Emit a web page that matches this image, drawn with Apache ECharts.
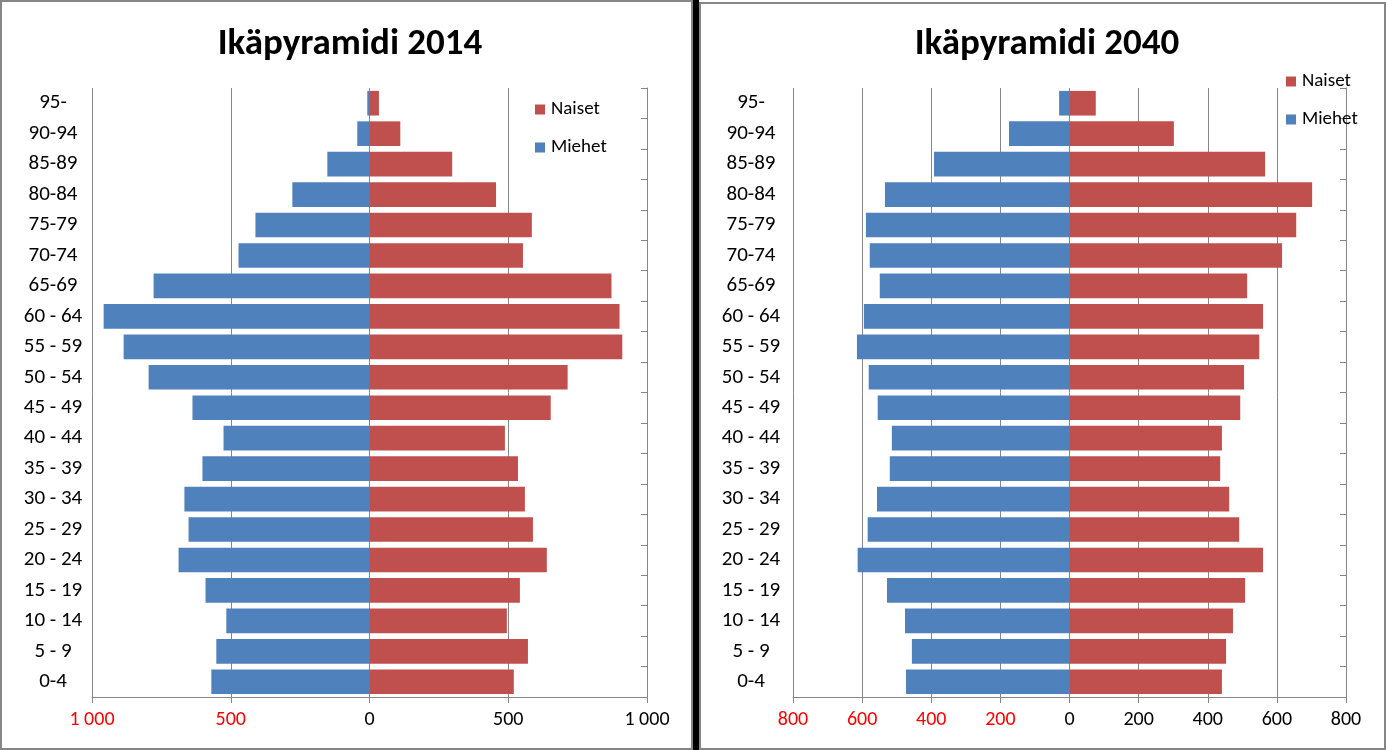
<!DOCTYPE html>
<html>
<head>
<meta charset="utf-8">
<script src="https://cdn.jsdelivr.net/npm/echarts@6/dist/echarts.min.js"></script>
<style>
html,body{margin:0;padding:0;background:#fff;}
#c{width:1386px;height:750px;}
</style>
</head>
<body>
<div id="c"></div>
<script>
// Age groups, bottom to top
var categories = ['0-4','5 - 9','10 - 14','15 - 19','20 - 24','25 - 29','30 - 34','35 - 39','40 - 44','45 - 49','50 - 54','55 - 59','60 - 64','65-69','70-74','75-79','80-84','85-89','90-94','95-'];
// 2014
var miehet2014 = [570, 552, 516, 591, 688, 652, 667, 602, 526, 638, 796, 886, 958, 778, 472, 411, 278, 152, 44, 8];
var naiset2014 = [520, 571, 495, 542, 639, 589, 560, 535, 488, 653, 714, 911, 901, 872, 553, 585, 456, 298, 111, 34];
// 2040
var miehet2040 = [473, 456, 476, 528, 613, 584, 557, 520, 514, 555, 581, 615, 595, 549, 578, 589, 534, 392, 175, 30];
var naiset2040 = [441, 453, 473, 508, 560, 491, 462, 436, 441, 494, 505, 549, 560, 514, 615, 656, 702, 566, 302, 76];
var titles = ['Ikäpyramidi 2014', 'Ikäpyramidi 2040'];
var seriesNames = ['Naiset', 'Miehet'];

var FONT = "Carlito, 'Liberation Sans Narrow', 'Liberation Sans', sans-serif";
var BLUE = '#4F81BD', RED = '#C0504D', GRAY = '#868686';

function fmt(v) {
  var a = Math.abs(v);
  var s = String(a);
  if (a >= 1000) s = s.slice(0, s.length - 3) + ' ' + s.slice(s.length - 3);
  return s;
}

function xAxisFor(gi, lim, step) {
  return {
    type: 'value', gridIndex: gi, min: -lim, max: lim, interval: step,
    axisLine: { show: true, lineStyle: { color: GRAY, width: 1 } },
    axisTick: { show: true, length: 6, lineStyle: { color: GRAY } },
    splitLine: { show: true, lineStyle: { color: GRAY, width: 1 } },
    axisLabel: {
      fontFamily: FONT, fontSize: 20, margin: 13,
      formatter: fmt,
      color: function (v) { return Number(v) < 0 ? '#FF0000' : '#000000'; }
    }
  };
}
function yLabelAxis(gi, margin) {
  return {
    type: 'category', gridIndex: gi, data: categories, position: 'left',
    axisLine: { show: false }, axisTick: { show: false },
    axisLabel: { fontFamily: FONT, fontSize: 21, color: '#000', align: 'center', margin: margin }
  };
}
function yTickAxis(gi) {
  return {
    type: 'category', gridIndex: gi, data: categories, position: 'right',
    axisLine: { show: true, onZero: true, lineStyle: { color: GRAY } },
    axisTick: { show: true, inside: true, length: 6, lineStyle: { color: GRAY } },
    axisLabel: { show: false }
  };
}
function barSeries(name, data, gi, color, neg) {
  return {
    type: 'bar', name: name, xAxisIndex: gi, yAxisIndex: gi * 2, stack: 'p' + gi,
    barCategoryGap: '19%',
    itemStyle: { color: color },
    data: data.map(function (v) { return neg ? -v : v; })
  };
}

var chart = echarts.init(document.getElementById('c'), null, { renderer: 'canvas' });
chart.setOption({
  animation: false,
  textStyle: { fontFamily: FONT },
  title: [
    { text: titles[0], left: 345, top: 21, textAlign: 'center',
      textStyle: { fontFamily: FONT, fontSize: 37, fontWeight: 'bold', color: '#000' } },
    { text: titles[1], left: 1042, top: 21, textAlign: 'center',
      textStyle: { fontFamily: FONT, fontSize: 37, fontWeight: 'bold', color: '#000' } }
  ],
  legend: [
    { data: seriesNames, orient: 'vertical', left: 535, top: 100, padding: 0, itemWidth: 10, itemHeight: 10,
      itemGap: 19, icon: 'rect', textStyle: { fontFamily: FONT, fontSize: 19, color: '#000', padding: [0,0,0,1] } },
    { data: seriesNames, orient: 'vertical', left: 1286, top: 72, padding: 0, itemWidth: 10, itemHeight: 10,
      itemGap: 19, icon: 'rect', textStyle: { fontFamily: FONT, fontSize: 19, color: '#000', padding: [0,0,0,1] } }
  ],
  grid: [
    { left: 92, right: 739, top: 88, bottom: 53 },
    { left: 793, right: 40, top: 88, bottom: 53 }
  ],
  xAxis: [ xAxisFor(0, 1000, 500), xAxisFor(1, 800, 200) ],
  yAxis: [ yLabelAxis(0, 39), yTickAxis(0), yLabelAxis(1, 42), yTickAxis(1) ],
  series: [
    barSeries('Miehet', miehet2014, 0, BLUE, true),
    barSeries('Naiset', naiset2014, 0, RED, false),
    barSeries('Miehet', miehet2040, 1, BLUE, true),
    barSeries('Naiset', naiset2040, 1, RED, false)
  ],
  graphic: [
    { type: 'rect', shape: { x: 1, y: 1, width: 691, height: 748 }, style: { fill: null, stroke: GRAY, lineWidth: 2 }, silent: true },
    { type: 'rect', shape: { x: 693, y: 0, width: 6, height: 750 }, style: { fill: '#000' }, silent: true },
    { type: 'rect', shape: { x: 700, y: 3, width: 685, height: 746 }, style: { fill: null, stroke: GRAY, lineWidth: 2 }, silent: true }
  ]
});
</script>
</body>
</html>
